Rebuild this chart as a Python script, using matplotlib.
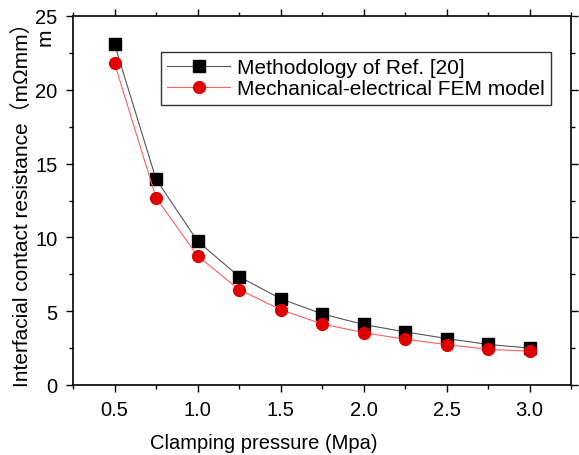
import numpy as np
import matplotlib.pyplot as plt
from matplotlib.ticker import MultipleLocator

# clamping pressure (MPa)
pressure = [0.5, 0.75, 1.0, 1.25, 1.5, 1.75, 2.0, 2.25, 2.5, 2.75, 3.0]
# interfacial contact resistance
ref20 = [23.1, 13.95, 9.75, 7.35, 5.85, 4.82, 4.1, 3.6, 3.15, 2.75, 2.5]
fem = [21.8, 12.7, 8.75, 6.47, 5.11, 4.14, 3.55, 3.1, 2.74, 2.42, 2.29]

plt.rcParams['font.family'] = ['Liberation Sans', 'Noto Sans CJK SC']

fig = plt.figure(figsize=(5.79, 4.56), dpi=100)
ax = fig.add_axes([73 / 579, 1 - 386 / 456, (571 - 73) / 579, (386 - 17) / 456])

ax.plot(pressure, ref20, color='#555555', lw=0.8, marker='s', ms=8,
        mfc='black', mec='black', label='Methodology of Ref. [20]')
ax.plot(pressure, fem, color='#ff6060', lw=0.8, marker='o', ms=8.5,
        mfc='#e00000', mec='#e00000', label='Mechanical-electrical FEM model')

ax.set_xlim(0.25, 3.25)
ax.set_ylim(0, 25)
ax.xaxis.set_major_locator(MultipleLocator(0.5))
ax.xaxis.set_minor_locator(MultipleLocator(0.25))
ax.yaxis.set_major_locator(MultipleLocator(5))
ax.yaxis.set_minor_locator(MultipleLocator(2.5))
ax.tick_params(which='both', direction='out', top=True, right=True, labelsize=14.5)
ax.tick_params(which='major', length=5, width=1, pad=6)
ax.tick_params(which='minor', length=3, width=1)
for s in ax.spines.values():
    s.set_linewidth(1.2)

fig.text(264 / 579, 1 - 444 / 456, 'Clamping pressure (Mpa)', fontsize=14.5,
         ha='center', va='center')
fig.text(22 / 579, 1 - 200 / 456, 'Interfacial contact resistance（mΩmm）',
         rotation=90, fontsize=15, ha='center', va='center')
fig.text(45 / 579, 1 - 37 / 456, 'm', rotation=90, fontsize=15, ha='center', va='center')

leg = ax.legend(loc='upper left', bbox_to_anchor=((161 - 73) / 498, 1 - (53 - 17) / 369),
                fontsize=15, frameon=True, fancybox=False, edgecolor='black',
                borderpad=0.3, labelspacing=0.1, handlelength=3.0, handletextpad=0.35,
                borderaxespad=0)
leg.get_frame().set_linewidth(1.0)

fig.savefig('out.png', dpi=100)
